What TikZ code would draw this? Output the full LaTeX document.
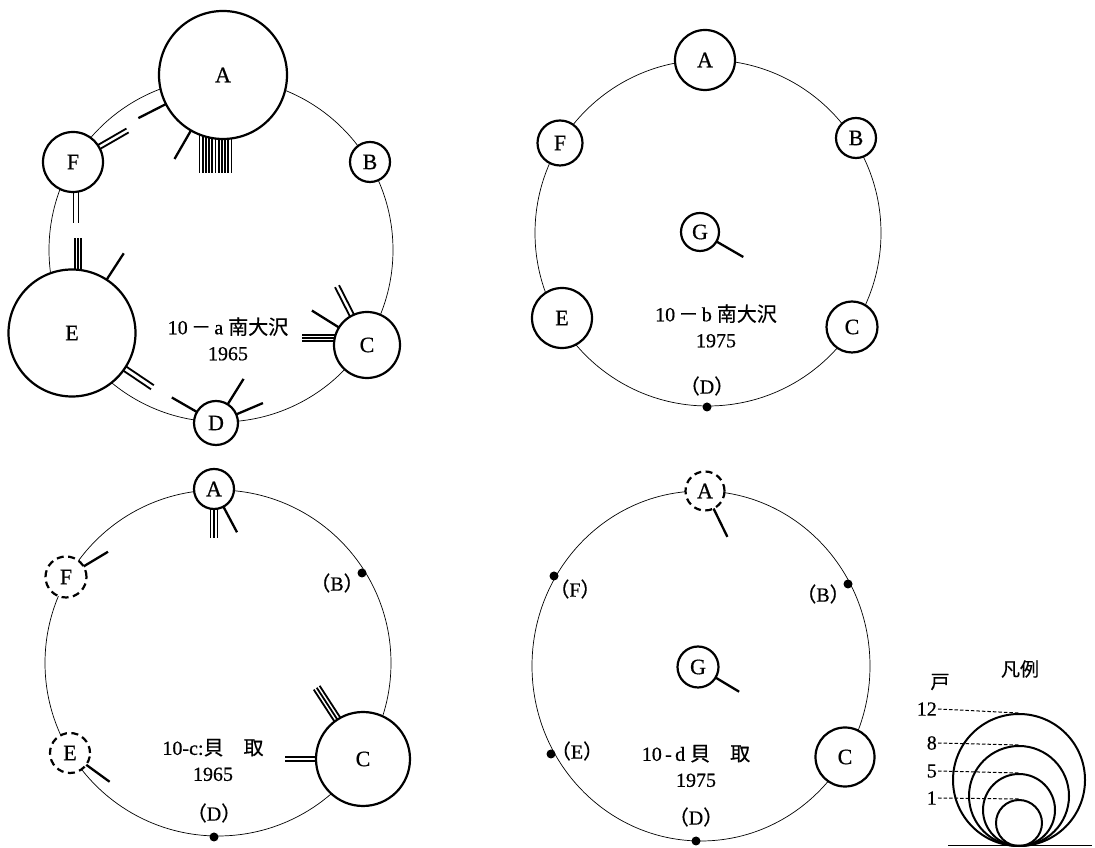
\documentclass[tikz,border=0pt]{standalone}
\usepackage{fontspec}
\setmainfont{Liberation Serif}[FakeBold=0.6]
\newfontfamily\jp{Noto Sans CJK JP}[FakeBold=0.4]
\usetikzlibrary{calc}
\pgfdeclarelayer{background}
\pgfsetlayers{background,main}
% #1 style, #2 node, #3 angle, #4 length from centre, #5 count, #6 gap, #7 lateral shift
\newcommand\strands[7][single]{%
  \begin{pgfonlayer}{background}
  \foreach \k in {1,...,#5}{%
    \draw[#1] ($(#2)+({#3+90}:{(\k-(#5+1)/2)*#6+#7})$) -- ++(#3:#4);
  }%
  \end{pgfonlayer}}
\begin{document}
\begin{tikzpicture}[x=1pt,y=1pt,
  ring/.style={line width=0.7pt},
  hh/.style={circle,draw,line width=2.2pt,fill=white,inner sep=0pt,
    font=\fontsize{22}{24}\selectfont},
  gone/.style={hh,dash pattern=on 7pt off 4.5pt},
  dot/.style={circle,fill,inner sep=0pt,minimum size=9pt},
  lab/.style={font=\fontsize{20}{26}\selectfont,align=center},
  single/.style={line width=2.3pt},
  multi/.style={line width=1.8pt},
  lcirc/.style={circle,draw,line width=2pt,inner sep=0pt},
  leader/.style={line width=1pt,dash pattern=on 3.5pt off 2pt},
  num/.style={font=\fontsize{20}{22}\selectfont,anchor=east,inner sep=1pt}]
\useasboundingbox (0,0) rectangle (1095,848);

% ---------------- 10-a
\begin{pgfonlayer}{background}
\draw[ring] (221,598) circle[radius=172];
\end{pgfonlayer}
\node[hh,minimum size=128] (aA) at (223,773) {A};
\node[hh,minimum size=40] (aB) at (370,686) {B};
\node[hh,minimum size=66] (aC) at (367,503) {C};
\node[hh,minimum size=44] (aD) at (216,425) {D};
\node[hh,minimum size=127] (aE) at (72,515) {E};
\node[hh,minimum size=60] (aF) at (73,686) {F};
\node[lab] (aLab) at (228,509) {10\,{\jp －}\,a {\jp 南大沢}\\1965};
\strands{aA}{207}{95}{1}{0}{0}
\strands{aA}{240}{97}{1}{0}{0}
\strands[multi]{aA}{270}{98}{11}{3.2}{-7.5}
\strands[multi]{aF}{30}{63}{2}{4.5}{0}
\strands[multi]{aF}{270}{61}{2}{5}{3}
\strands[multi]{aE}{90}{95}{3}{3.2}{-6}
\strands{aE}{57}{95}{1}{0}{0}
\strands[multi]{aE}{-34}{97}{2}{5}{0}
\strands{aD}{150}{51}{1}{0}{0}
\strands{aD}{58}{52}{1}{0}{0}
\strands{aD}{23}{51}{1}{0}{0}
\strands[multi]{aC}{117}{66}{2}{4.5}{0}
\strands{aC}{148}{65}{1}{0}{0}
\strands[multi]{aC}{180}{65}{3}{3.2}{-7}

% ---------------- 10-b
\begin{pgfonlayer}{background}
\draw[ring] (708,615) circle[radius=173];
\end{pgfonlayer}
\node[hh,minimum size=60] (bA) at (705,788) {A};
\node[hh,minimum size=40] (bB) at (856,710) {B};
\node[hh,minimum size=51] (bC) at (852,521) {C};
\node[dot] (bD) at (707,441) {};
\node[lab] (bDl) at (707,462) {{\jp （}D{\jp ）}};
\node[hh,minimum size=60] (bE) at (562,530) {E};
\node[hh,minimum size=45] (bF) at (560,705) {F};
\node[hh,minimum size=38] (bG) at (700,616) {G};
\strands{bG}{-30}{50}{1}{0}{0}
\node[lab] (bLab) at (716,522) {10\,{\jp －}\,b {\jp 南大沢}\\1975};

% ---------------- 10-c
\begin{pgfonlayer}{background}
\draw[ring] (218,185) circle[radius=173];
\end{pgfonlayer}
\node[hh,minimum size=40] (cA) at (214,359) {A};
\node[dot] (cB) at (362,275) {};
\node[lab] (cBl) at (337,265) {{\jp （}B{\jp ）}};
\node[hh,minimum size=94] (cC) at (363,89) {C};
\node[dot] (cD) at (214,11) {};
\node[lab] (cDl) at (214,35) {{\jp （}D{\jp ）}};
\node[gone,minimum size=40] (cE) at (70,95) {E};
\node[gone,minimum size=41] (cF) at (66,271) {F};
\strands[multi]{cA}{270}{49}{3}{3.5}{0}
\strands{cA}{-62}{49}{1}{0}{0}
\strands{cF}{31}{49}{1}{0}{0}
\strands{cE}{-36}{49}{1}{0}{0}
\strands[multi]{cC}{123}{85}{3}{3.5}{0}
\strands[multi]{cC}{180}{78}{2}{4}{0}
\node[lab] (cLab) at (213,88) {10-c:{\jp 貝　取}\\1965};

% ---------------- 10-d
\begin{pgfonlayer}{background}
\draw[ring] (701,182) ellipse[x radius=169,y radius=175];
\end{pgfonlayer}
\node[gone,minimum size=39] (dA) at (705,357) {A};
\node[dot] (dB) at (848,264) {};
\node[lab] (dBl) at (823,254) {{\jp （}B{\jp ）}};
\node[hh,minimum size=59] (dC) at (845,91) {C};
\node[dot] (dD) at (696,7) {};
\node[lab] (dDl) at (696,31) {{\jp （}D{\jp ）}};
\node[dot] (dE) at (551,94) {};
\node[lab] (dEl) at (577,97) {{\jp （}E{\jp ）}};
\node[dot] (dF) at (554,272) {};
\node[lab] (dFl) at (575,259) {{\jp （}F{\jp ）}};
\node[hh,minimum size=41] (dG) at (698,181) {G};
\strands{dA}{-64}{51}{1}{0}{0}
\strands{dG}{-31}{48}{1}{0}{0}
\node[lab] (dLab) at (696,82) {10\,-\,d {\jp 貝　取}\\1975};

% ---------------- legend
\coordinate (base1) at (948,2);
\coordinate (base2) at (1092,2);
\draw[line width=1pt] (base1) -- (base2);
\node[lcirc,minimum size=132] (L12) at (1019,68) {};
\node[lcirc,minimum size=100] (L8) at (1019,52) {};
\node[lcirc,minimum size=72] (L5) at (1019,38) {};
\node[lcirc,minimum size=46] (L1) at (1019,25) {};
\node[num] (n12) at (938,139) {12};
\node[num] (n8) at (938,105) {8};
\node[num] (n5) at (938,77) {5};
\node[num] (n1) at (938,50) {1};
\draw[leader] (n12.east) -- (L12.north);
\draw[leader] (n8.east) -- (L8.north);
\draw[leader] (n5.east) -- (L5.north);
\draw[leader] (n1.east) -- (L1.north);
\node[font=\jp\fontsize{19}{22}\selectfont] (hu) at (940,166) {戸};
\node[font=\jp\fontsize{19}{22}\selectfont] (hanrei) at (1020,179) {凡例};
\end{tikzpicture}
\end{document}
